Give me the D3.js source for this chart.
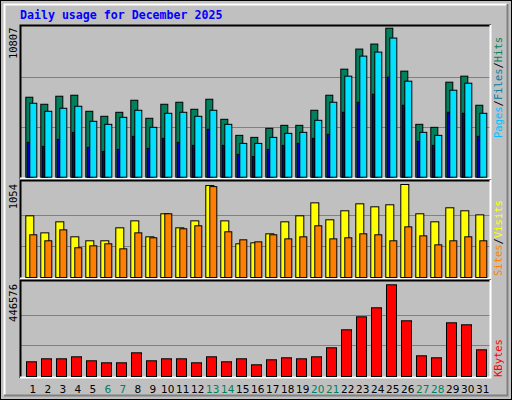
<!DOCTYPE html>
<html><head><meta charset="utf-8">
<script src="https://cdn.jsdelivr.net/npm/d3@7"></script>
<style>body{margin:0;background:#fff}svg{display:block}</style>
</head><body><svg id="c" width="512" height="400"></svg>
<script>
const days = d3.range(1, 32);
const weekends = [6,7,13,14,20,21,27,28];
const hits = [5800,5290,5873,5945,4781,4417,4708,5581,4272,5290,5436,4927,5654,4199,3035,2889,3544,3762,3762,4854,5945,7837,9293,9657,10807,7692,3835,3617,6891,7328,5218];
const files = [5363,4781,4999,5145,4053,3835,4344,4854,3617,4635,4708,4417,4854,3835,2452,2452,2889,3180,3253,4126,5436,7328,8783,9074,10093,6964,3253,3035,6309,6819,4635];
const pages = [2525,2234,2743,3253,2161,1870,2016,2962,2088,2816,2525,2307,3471,2307,1652,1506,2016,2307,2452,2816,3107,4708,5436,6018,7255,5218,2598,2307,4708,4635,2962];
const visits = [699,506,631,461,416,416,563,642,461,722,563,642,1042,642,382,393,495,631,699,846,654,756,835,801,824,1054,722,631,790,756,710];
const sites = [484,416,540,337,359,382,325,506,450,722,552,586,1030,518,427,404,484,438,461,586,438,450,495,484,416,574,472,370,416,461,416];
const kbytes = [71600,86200,86200,95900,76500,66700,66700,115400,76500,86200,86200,66700,95900,71600,86200,57000,81300,91100,86200,95900,139800,227400,290700,334600,446576,271300,100800,91100,261500,251800,130000];
const maxLabels = ["10807","1054","446576"];

const svg = d3.select("#c");
const BG="#c0c0c0";
svg.append("rect").attr("x",0).attr("y",0).attr("width",512).attr("height",400).attr("fill",BG);
svg.append("rect").attr("x",0.5).attr("y",0.5).attr("width",511).attr("height",399).attr("fill","none").attr("stroke","#000");
// bevel
svg.append("path").attr("d","M4.5,395V4.5H507").attr("stroke","#fff").attr("fill","none").attr("stroke-width",2);
svg.append("path").attr("d","M4,395.5H507.5V4").attr("stroke","#808080").attr("fill","none").attr("stroke-width",2);

svg.append("text").attr("x",20).attr("y",19).text("Daily usage for December 2025")
  .attr("font-family","DejaVu Sans Mono").attr("font-weight","bold").attr("font-size","11.6px").attr("fill","#0000ff");

const x = d3.scaleLinear().domain([1,31]).range([25.3,475.3]);

function panel(top,bottom,base,maxTop){
  svg.append("rect").attr("x",20).attr("y",top).attr("width",471).attr("height",bottom-top).attr("fill",BG);
  const y = d3.scaleLinear().domain([0,1]).range([base,maxTop]);
  [1/3,2/3].forEach(f=>svg.append("line").attr("x1",21).attr("x2",490).attr("y1",Math.round(y(f))+0.5).attr("y2",Math.round(y(f))+0.5).attr("stroke","#808080"));
  svg.append("path").attr("d",`M20.5,${bottom}V${top+0.5}H491`).attr("stroke","#000").attr("fill","none").attr("stroke-width",2);
  svg.append("path").attr("d",`M20,${bottom-0.5}H490.5V${top}`).attr("stroke","#fff").attr("fill","none").attr("stroke-width",2);
}
panel(25,179,176.7,27.7);
panel(180,279,277,184);
panel(280,378,376,284.3);

function bars(vals,max,base,maxTop,dx,w,color){
  const y=d3.scaleLinear().domain([0,max]).range([base,maxTop]);
  svg.append("g").selectAll("rect").data(vals).join("rect")
   .attr("x",(d,i)=>x(days[i])+dx+0.5).attr("y",d=>y(d)+0.5)
   .attr("width",w).attr("height",d=>base-y(d))
   .attr("fill",color).attr("stroke","#000").attr("stroke-width",1);
}
bars(hits,10807,176.7,27.7,0,7,"#00805c");
bars(files,10807,176.7,27.7,4,7,"#00e0ff");
bars(pages,10807,176.7,27.7,1.5,2,"#0000ff");
bars(visits,1054,277,184,0,8,"#ffff00");
bars(sites,1054,277,184,4,7,"#ff8000");
bars(kbytes,446576,376,284.3,0.7,10,"#ff0000");

// max labels
[[27.5,0],[184,1],[284,2]].forEach(([yy,i])=>{
  svg.append("text").attr("transform",`translate(17,${yy}) rotate(-90)`).attr("text-anchor","end")
   .attr("font-family","DejaVu Sans Mono").attr("font-size","10.5px").attr("fill","#000").text(maxLabels[i]);
});

// day labels
svg.append("g").selectAll("text").data(days).join("text")
  .attr("x",d=>x(d)+7.5).attr("y",393).attr("text-anchor","middle")
  .attr("font-family","DejaVu Sans").attr("font-size","10.5px")
  .attr("fill",d=>weekends.includes(d)?"#00805c":"#000").text(d=>d);

// right legends (rotated, reading bottom to top)
function legend(yBottom,parts){
  const t=svg.append("text").attr("transform",`translate(502,${yBottom}) rotate(-90)`)
   .attr("font-family","DejaVu Sans Mono").attr("font-size","10.5px");
  parts.forEach(([s,c])=>t.append("tspan").attr("fill",c).text(s));
}
legend(138,[["Pages","#00c0ff"],["/","#000"],["Files","#0080a0"],["/","#000"],["Hits","#00805c"]]);
legend(276,[["Sites","#ff8000"],["/","#000"],["Visits","#ffff00"]]);
legend(377,[["KBytes","#ff0000"]]);
</script></body></html>
